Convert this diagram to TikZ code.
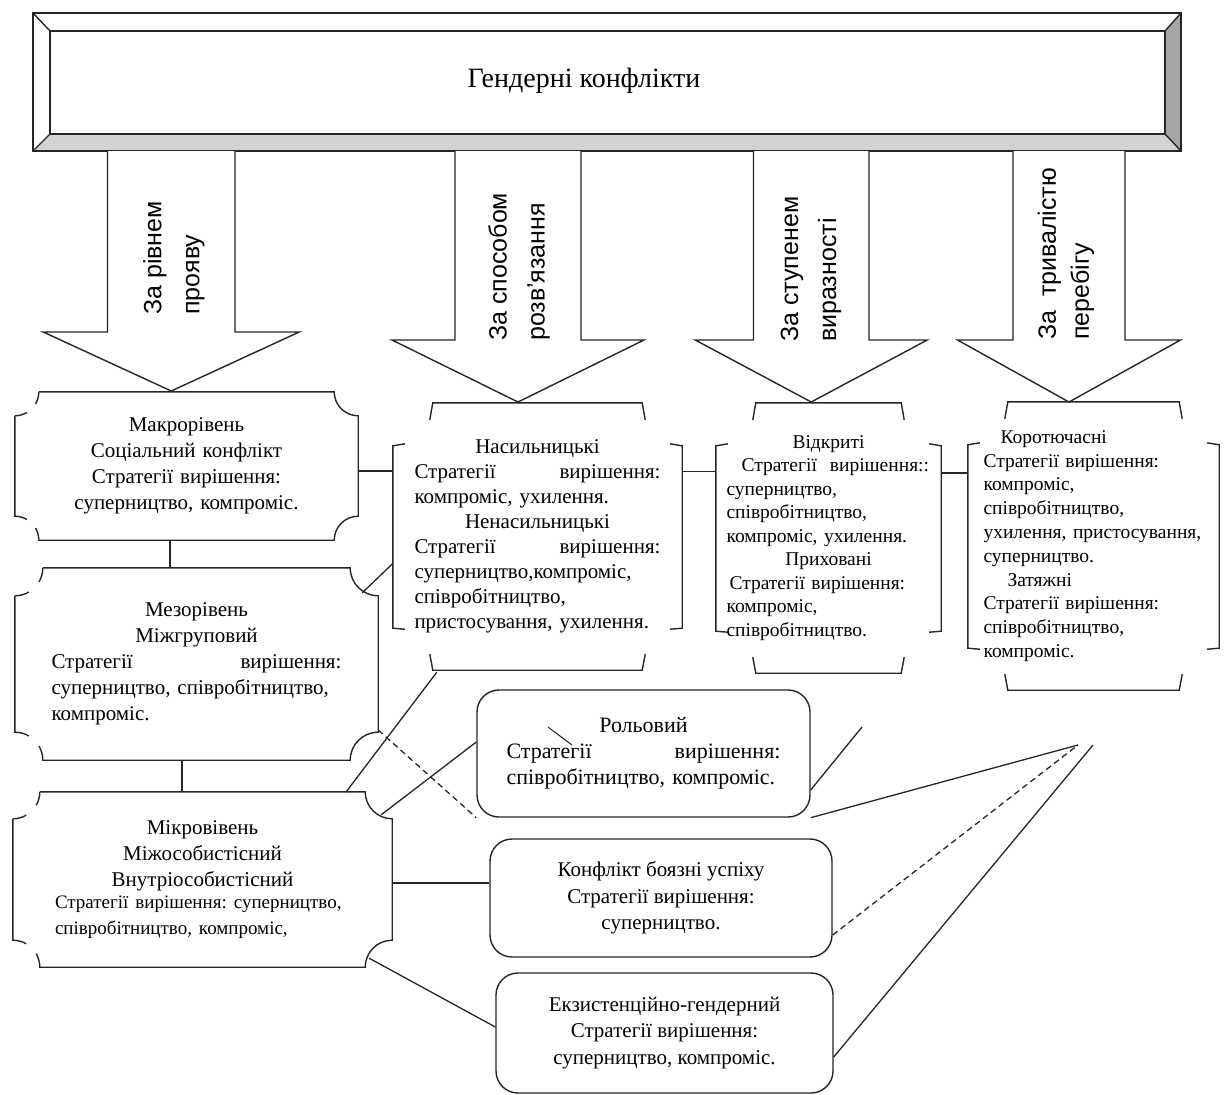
\documentclass[tikz,border=0pt]{standalone}
\usepackage{fontspec}
\setmainfont{Liberation Serif}
\newfontfamily\arrowfont{Liberation Sans}
\usetikzlibrary{positioning}
\definecolor{bevelgray}{RGB}{165,165,165}
\definecolor{bevellight}{RGB}{210,210,210}
\tikzset{boxline/.style={draw=black!85,line width=1.4pt}}
\tikzset{link/.style={draw=black!85,line width=1.3pt}}
\tikzset{dashlink/.style={link,dash pattern=on 6pt off 4pt}}
\tikzset{blockarrow/.style={boxline,fill=white,line join=miter}}
\tikzset{arrowlabel/.style={rotate=90,anchor=west,inner sep=0pt,align=left,font=\arrowfont\fontsize{25}{38}\selectfont}}
\tikzset{lvlbox/.style={inner sep=0pt,align=left,font=\fontsize{21}{26}\selectfont\frenchspacing}}
\tikzset{rbox/.style={lvlbox,boxline,rounded corners=22pt,align=center}}
% frame with concave corners (left corners only half drawn)
\newcommand{\plaqueframe}[2]{%
  \draw[boxline] ([xshift=#2]#1.north west) -- ([xshift=-#2]#1.north east)
    arc[start angle=180,end angle=270,radius=#2] -- ([yshift=#2]#1.south east)
    arc[start angle=90,end angle=180,radius=#2] -- ([xshift=#2]#1.south west)
    arc[start angle=0,end angle=30,radius=#2];
  \draw[boxline] ([xshift=#2]#1.north west) arc[start angle=0,end angle=-30,radius=#2];
  \draw[boxline] ([yshift=-#2]#1.north west) arc[start angle=-90,end angle=-60,radius=#2];
  \draw[boxline] ([yshift=-#2]#1.north west) -- ([yshift=#2]#1.south west)
    arc[start angle=90,end angle=60,radius=#2];
}
% frame made of four separate brackets
\newcommand{\bracketframe}[1]{%
  \draw[boxline] ([xshift=37,yshift=-17]#1.north west) -- ([xshift=40]#1.north west)
    -- ([xshift=-40]#1.north east) -- ([xshift=-37,yshift=-17]#1.north east);
  \draw[boxline] ([xshift=37,yshift=16]#1.south west) -- ([xshift=40]#1.south west)
    -- ([xshift=-40]#1.south east) -- ([xshift=-37,yshift=16]#1.south east);
  \draw[boxline] ([xshift=12,yshift=-41]#1.north west) -- ([yshift=-43]#1.north west)
    -- ([yshift=42]#1.south west) -- ([xshift=12,yshift=41]#1.south west);
  \draw[boxline] ([xshift=-12,yshift=-41]#1.north east) -- ([yshift=-43]#1.north east)
    -- ([yshift=42]#1.south east) -- ([xshift=-12,yshift=41]#1.south east);
}

\begin{document}
\begin{tikzpicture}[x=1pt,y=1pt]
    \useasboundingbox[fill=white] (0,0) rectangle (1229,-1095);

    % title box with bevel
    \fill[bevelgray] (1181,-13) -- (1181,-151) -- (1165,-134) -- (1165,-31) -- cycle;
    \fill[bevellight] (33,-151) -- (1181,-151) -- (1165,-134) -- (50,-134) -- cycle;
    \draw[boxline] (33,-13) rectangle (1181,-151);
    \draw[boxline] (50,-31) rectangle (1165,-134);
    \draw[boxline] (33,-13) -- (50,-31) (1181,-13) -- (1165,-31)
                   (33,-151) -- (50,-134) (1181,-151) -- (1165,-134);
    \node[inner sep=0pt,font=\fontsize{28}{32}\selectfont] (title) at (584,-81) {Гендерні конфлікти};

    % block arrows
    \foreach \cx/\sw/\hw/\yb/\yt in {171.25/63.75/128/332/391, 518/63/126/340/402,
                                     811.25/57.75/116/340/402, 1069/56/111.5/340/402}
        \draw[blockarrow] (\cx-\sw,-151) -- (\cx-\sw,-\yb) -- (\cx-\hw,-\yb) -- (\cx,-\yt)
            -- (\cx+\hw,-\yb) -- (\cx+\sw,-\yb) -- (\cx+\sw,-151);

    \node[arrowlabel] (lblriv) at (174,-315) {За рівнем\\прояву};
    \node[arrowlabel] (lblspos) at (519,-341) {За способом\\розв’язання};
    \node[arrowlabel] (lblstup) at (811,-342) {За ступенем\\виразності};
    \node[arrowlabel,font=\arrowfont\fontsize{25}{33}\selectfont] (lbltryv) at (1066,-340) {За\ \ тривалістю\\перебігу};

    % levels
    \node[lvlbox,minimum width=343,minimum height=148,text width=300,align=center] (makro) at (186.5,-466)
        {Макрорівень\\Соціальний конфлікт\\Стратегії вирішення:\\суперництво, компроміс.};
    \node[lvlbox,minimum width=363,minimum height=192,text width=290] (mezo) at (196.5,-664)
        {\hfill Мезорівень\hfill\mbox{}\\\hfill Міжгруповий\hfill\mbox{}\\Стратегії\hfill вирішення:\\
         суперництво, співробітництво,\\компроміс.};
    \node[lvlbox,minimum width=379,minimum height=175,text width=295] (mikro) at (202.5,-879.5)
        {\hfill Мікровівень\hfill\mbox{}\\\hfill Міжособистісний\hfill\mbox{}\\\hfill Внутріособистісний\hfill\mbox{}\\
         {\fontsize{19}{22}\selectfont Стратегії вирішення: суперництво,\\співробітництво, компроміс,}};
    \plaqueframe{makro}{24}
    \plaqueframe{mezo}{28}
    \plaqueframe{mikro}{27}

    % ways of resolution, intensity, duration
    \node[lvlbox,font=\fontsize{21}{25}\selectfont\frenchspacing,minimum width=289,minimum height=267,text width=246] (nas) at (537.5,-536.5)
        {\hfill Насильницькі\hfill\mbox{}\\Стратегії\hfill вирішення:\\компроміс, ухилення.\\
         \hfill Ненасильницькі\hfill\mbox{}\\Стратегії\hfill вирішення:\\суперництво,компроміс,\\
         співробітництво,\\пристосування, ухилення.};
    \node[lvlbox,font=\fontsize{19.5}{23.5}\selectfont\frenchspacing,minimum width=225,minimum height=270,text width=204] (vid) at (828.5,-538)
        {\hfill Відкриті\hfill\mbox{}\\\hspace*{15pt}Стратегії\ \ вирішення::\\суперництво,\\співробітництво,\\
         компроміс, ухилення.\\\hfill Приховані\hfill\mbox{}\\\hspace*{3pt}Стратегії вирішення:\\компроміс,\\співробітництво.};
    \node[lvlbox,font=\fontsize{19.5}{23.8}\selectfont\frenchspacing,minimum width=251,minimum height=288,text width=220] (korot) at (1093.5,-546)
        {\hspace*{17pt}Коротючасні\\Стратегії вирішення:\\компроміс,\\співробітництво,\\ухилення, пристосування,\\
         суперництво.\\\hspace*{24pt}Затяжні\\Стратегії вирішення:\\співробітництво,\\компроміс.};
    \bracketframe{nas}
    \bracketframe{vid}
    \bracketframe{korot}

    % micro level kinds
    \node[rbox,font=\fontsize{22}{26}\selectfont\frenchspacing,minimum width=333,minimum height=127,text width=274,align=left] (rol) at (643.5,-753.5)
        {\hfill Рольовий\hfill\mbox{}\\Стратегії\hfill вирішення:\\співробітництво, компроміс.};
    \node[rbox,font=\fontsize{21}{26.5}\selectfont\frenchspacing,minimum width=342,minimum height=118] (konf) at (661,-898)
        {Конфлікт боязні успіху\\Стратегії вирішення:\\суперництво.};
    \node[rbox,font=\fontsize{21}{26.5}\selectfont\frenchspacing,minimum width=337,minimum height=120] (ekz) at (664.5,-1033)
        {Екзистенційно-гендерний\\Стратегії вирішення:\\суперництво, компроміс.};

    \coordinate (rolend) at (862,-727);
    \coordinate (apex) at (1078,-745);
    \coordinate (apexb) at (1093,-745);
    \coordinate (markA) at (548,-727);
    \coordinate (markB) at (572,-745);

    % connectors
    \draw[link] ([xshift=-16.5]makro.south) -- ([xshift=-16.5]makro.south |- mezo.north);
    \draw[link] ([xshift=-14.5]mezo.south) -- ([xshift=-14.5]mezo.south |- mikro.north);
    \draw[link] ([yshift=-5]makro.east) -- ([yshift=-5]makro.east -| nas.west);
    \draw[link] ([yshift=65]nas.east) -- ([yshift=65]nas.east -| vid.west);
    \draw[link] ([yshift=65]vid.east) -- ([yshift=65]vid.east -| korot.west);
    \draw[link] ([xshift=-16,yshift=-25]mezo.north east) -- ([yshift=-27]nas.west);
    \draw[link] ([xshift=-46]mikro.north east) -- ([xshift=44,yshift=-2]nas.south west);
    \draw[link] ([xshift=-11,yshift=-23]mikro.north east) -- ([yshift=11.5]rol.west);
    \draw[dashlink] ([yshift=-66]mezo.east) -- (rol.south west);
    \draw[link] ([yshift=-3.5]mikro.east) -- ([yshift=-3.5]mikro.east -| konf.west);
    \draw[link] ([xshift=-23,yshift=9]mikro.south east) -- ([yshift=6]ekz.west);
    \draw[link] ([yshift=-36.5]rol.east) -- (rolend);
    \draw[link] (rol.south east) -- (apex);
    \draw[dashlink] ([yshift=-37]konf.east) -- (apex);
    \draw[link] ([yshift=-24]ekz.east) -- (apexb);
    \draw[link,line width=1pt] (markA) -- (markB);
\end{tikzpicture}
\end{document}
